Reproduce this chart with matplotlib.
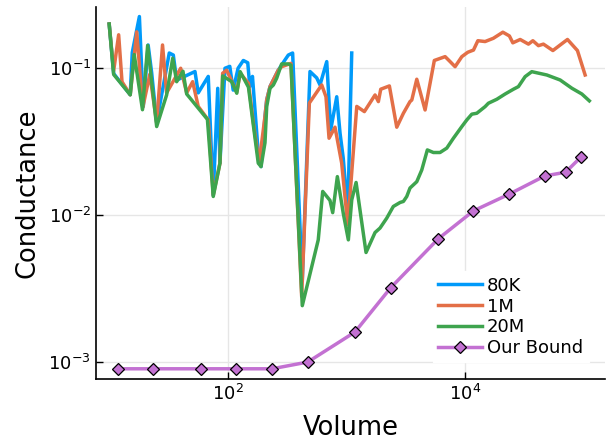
import matplotlib
matplotlib.use("Agg")
import matplotlib.pyplot as plt

# --- data (log-log) ---
VOL_80K = [9.9, 10.8, 14.9, 15.5, 17.8, 19.2, 21.1, 22.6, 24.9, 31.8, 34.4, 36.7,
           52.4, 55.8, 67.8, 74.7, 81.5, 85.1, 93.8, 103, 110, 121, 134, 146,
           152, 160, 179, 189, 204, 211, 225, 264, 301, 321, 349, 421, 489,
           557, 594, 677, 731, 822, 877, 933, 1018, 1100]
COND_80K = [0.200, 0.092, 0.066, 0.128, 0.225, 0.055, 0.144, 0.093, 0.043, 0.127,
            0.123, 0.083, 0.095, 0.068, 0.088, 0.0137, 0.073, 0.0227, 0.100, 0.103,
            0.071, 0.100, 0.113, 0.109, 0.075, 0.088, 0.0265, 0.0214, 0.047,
            0.061, 0.075, 0.097, 0.114, 0.123, 0.127, 0.0036, 0.095, 0.086,
            0.077, 0.111, 0.038, 0.064, 0.036, 0.0244, 0.0103, 0.127]

VOL_1M = [9.9, 10.8, 11.9, 12.7, 14.9, 16.9, 19.0, 21.8, 24.9, 27.9, 30.2, 39.7,
          44.6, 50.1, 55.8, 67.8, 74.7, 85.1, 89.7, 96.9, 118, 126, 148, 163,
          182, 204, 211, 225, 264, 282, 338, 416, 483, 614, 667, 708, 795, 905,
          1018, 1213, 1406, 1730, 1845, 1932, 2285, 2637, 3000, 3411, 3532,
          3890, 4571, 5470, 6745, 7430, 8185, 9333, 10470, 11700, 12740, 14660,
          17220, 20700, 23500, 25120, 28970, 34040, 37070, 41300, 45500, 54700,
          63000, 72600, 88100, 102300]
COND_1M = [0.200, 0.096, 0.169, 0.081, 0.066, 0.177, 0.054, 0.091, 0.0425, 0.144,
           0.068, 0.100, 0.068, 0.081, 0.055, 0.0445, 0.0137, 0.0226, 0.0925,
           0.097, 0.069, 0.0925, 0.079, 0.0423, 0.0226, 0.047, 0.061, 0.075,
           0.097, 0.1025, 0.108, 0.0028, 0.058, 0.077, 0.064, 0.0334, 0.0397,
           0.0226, 0.0086, 0.055, 0.0507, 0.0658, 0.0593, 0.072, 0.0758, 0.0397,
           0.0494, 0.0593, 0.0608, 0.0842, 0.052, 0.113, 0.120, 0.111, 0.1025,
           0.120, 0.1285, 0.133, 0.154, 0.152, 0.160, 0.176, 0.166, 0.149,
           0.157, 0.146, 0.154, 0.1425, 0.146, 0.132, 0.144, 0.157, 0.132, 0.090]

VOL_20M = [9.9, 10.8, 14.9, 16.1, 18.9, 20.9, 24.9, 30.2, 34.0, 36.7, 41.5, 44.6,
           66.7, 74.7, 85.1, 89.7, 107, 118, 126, 148, 179, 189, 204, 211, 225,
           240, 256, 282, 321, 338, 421, 574, 626, 721, 760, 832, 933, 1030,
           1100, 1197, 1452, 1730, 1906, 2172, 2466, 2812, 3000, 3202, 3411,
           3890, 4285, 4777, 5370, 6110, 6966, 7925, 9333, 10280, 11330, 12480,
           14660, 15630, 18400, 21630, 25420, 28000, 31900, 36300, 48600, 63000,
           79100, 96000, 111000]
COND_20M = [0.200, 0.0907, 0.066, 0.124, 0.0522, 0.143, 0.0401, 0.0658, 0.117,
            0.081, 0.0954, 0.0668, 0.0449, 0.0134, 0.0226, 0.0887, 0.081, 0.0676,
            0.0948, 0.0743, 0.0226, 0.0214, 0.0311, 0.0548, 0.0731, 0.0769,
            0.0855, 0.107, 0.107, 0.105, 0.00242, 0.00679, 0.0145, 0.0126,
            0.0104, 0.0183, 0.0103, 0.00679, 0.0127, 0.0167, 0.00557, 0.00762,
            0.00817, 0.00955, 0.01146, 0.0122, 0.0124, 0.0134, 0.0153, 0.0169,
            0.0203, 0.0278, 0.0267, 0.0267, 0.0286, 0.0334, 0.0401, 0.0445,
            0.0487, 0.0494, 0.0548, 0.0578, 0.0615, 0.0668, 0.0720, 0.0750,
            0.0877, 0.0948, 0.090, 0.0832, 0.0731, 0.0668, 0.060]

VOL_BOUND = [11.7, 23.4, 58.6, 117, 234, 468, 1170, 2340, 5900, 11700, 23400,
             46800, 70000, 94000]
COND_BOUND = [9.0e-4, 9.0e-4, 9.0e-4, 9.0e-4, 9.0e-4, 1.0e-3, 1.6e-3, 3.2e-3,
              6.9e-3, 1.07e-2, 1.39e-2, 1.85e-2, 1.96e-2, 2.48e-2]

fig = plt.figure(figsize=(6.07, 4.41), dpi=100)
ax = fig.add_axes([0.158, 0.141, 0.839, 0.843])

lw = 2.5
ax.plot(VOL_80K, COND_80K, color="#009AFA", lw=lw, label="80K")
ax.plot(VOL_1M, COND_1M, color="#E36F47", lw=lw, label="1M")
ax.plot(VOL_20M, COND_20M, color="#3EA44E", lw=lw, label="20M")
ax.plot(VOL_BOUND, COND_BOUND, color="#C371D2", lw=lw, marker="D",
        markersize=6.5, markerfacecolor="#C371D2", markeredgecolor="black",
        markeredgewidth=0.9, label="Our Bound")

ax.set_xscale("log")
ax.set_yscale("log")
ax.set_xlim(7.65, 1.51e5)
ax.set_ylim(7.69e-4, 0.261)
ax.set_xticks([1e2, 1e4])
ax.set_yticks([1e-3, 1e-2, 1e-1])
ax.minorticks_off()
ax.grid(True, color="#e6e6e6", linewidth=1.0)
ax.set_axisbelow(True)

for s in ("top", "right"):
    ax.spines[s].set_visible(False)
for s in ("left", "bottom"):
    ax.spines[s].set_linewidth(1.2)
ax.tick_params(direction="in", length=5, width=1.0, labelsize=13)

ax.set_xlabel("Volume", fontsize=18.5, labelpad=8)
ax.set_ylabel("Conductance", fontsize=18.5, labelpad=6)

leg = ax.legend(loc="lower right", bbox_to_anchor=(0.985, 0.02), fontsize=13,
                frameon=True, fancybox=False, edgecolor="white",
                framealpha=1.0, handlelength=2.4, handletextpad=0.3,
                labelspacing=0.15, borderpad=0.3)

fig.savefig("out.png", dpi=100)
